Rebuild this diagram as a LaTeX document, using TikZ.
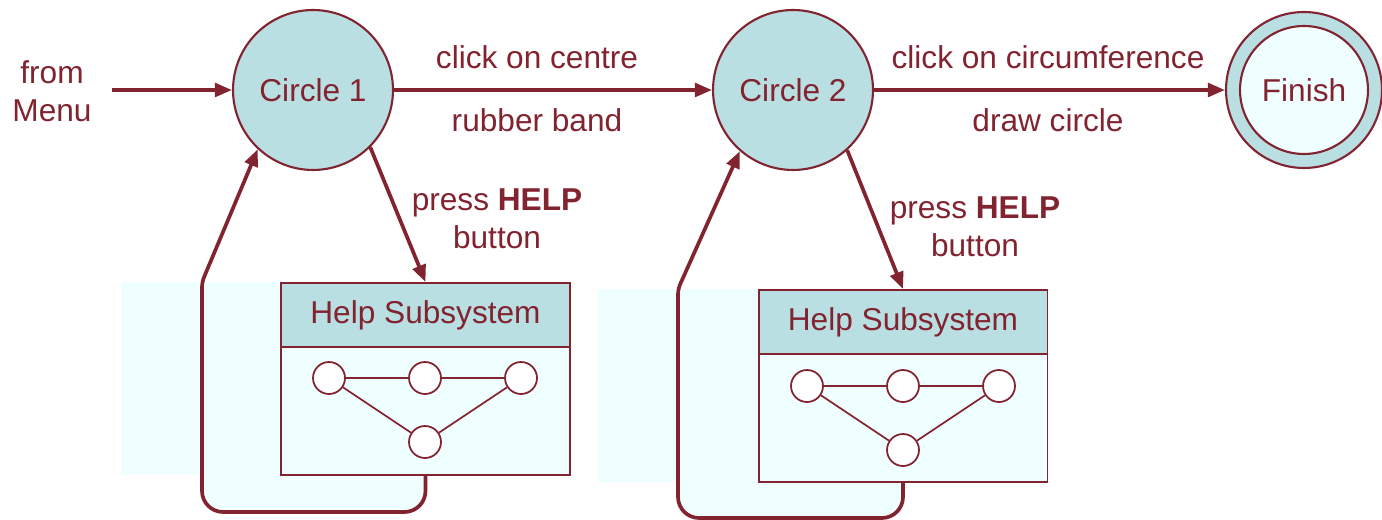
\documentclass[tikz,border=0pt]{standalone}
\usepackage{fontspec}
\setmainfont{Liberation Sans}
\usetikzlibrary{arrows.meta}
\definecolor{mar}{HTML}{822330}
\definecolor{tealfill}{HTML}{B9DFE2}
\definecolor{pale}{HTML}{EFFFFF}
\begin{document}
\begin{tikzpicture}[x=0.02cm,y=-0.02cm,
  every node/.style={text=mar,font=\fontsize{18}{21.6}\selectfont},
  state/.style={circle,draw=mar,line width=1.2pt,fill=tealfill,minimum size=3.2cm,inner sep=0pt},
  arr/.style={draw=mar,line width=2.1pt,-{Triangle[length=0.34cm,width=0.27cm]}},
  hhead/.style={rectangle,draw=mar,line width=1.1pt,fill=tealfill,minimum width=5.78cm,minimum height=1.28cm,inner sep=0pt},
  hbody/.style={rectangle,draw=mar,line width=1.1pt,fill=pale,minimum width=5.78cm,minimum height=2.56cm,inner sep=0pt},
  mini/.style={circle,draw=mar,line width=1pt,fill=white,minimum size=0.64cm,inner sep=0pt},
  miniedge/.style={draw=mar,line width=1pt},
  lbl/.style={align=center}]
\useasboundingbox (0,0) rectangle (1382,520);

% pale backgrounds
\fill[pale] (121,282) rectangle (570,474);
\fill[pale,rounded corners=12] (202,440) rectangle (425.5,512);
\fill[pale] (598,289) rectangle (1047,482);
\fill[pale,rounded corners=12] (678,450) rectangle (903,518);

% states
\node[state] (c1) at (313,90) {Circle 1};
\node[state] (c2) at (793,90) {Circle 2};
\node[circle,draw=mar,line width=1.2pt,fill=tealfill,minimum size=3.12cm,inner sep=0pt] (fin) at (1304,90) {};
\node[circle,draw=mar,line width=1.2pt,fill=pale,minimum size=2.56cm,inner sep=0pt] (fini) at (1304,90) {Finish};

% help box 1
\node[hbody,anchor=north] (b1) at (425.5,346) {};
\node[hhead,anchor=north] (h1) at (425.5,282) {Help Subsystem};
\node[mini] (a1) at (329,378) {};
\node[mini] (a2) at (425,378) {};
\node[mini] (a3) at (521,378) {};
\node[mini] (a4) at (425,442) {};
\draw[miniedge] (a1) -- (a2) (a2) -- (a3) (a1) -- (a4) (a3) -- (a4);

% help box 2
\node[hbody,anchor=north] (b2) at (903,353) {};
\node[hhead,anchor=north] (h2) at (903,289) {Help Subsystem};
\node[mini] (d1) at (807,386) {};
\node[mini] (d2) at (903,386) {};
\node[mini] (d3) at (999,386) {};
\node[mini] (d4) at (903,450) {};
\draw[miniedge] (d1) -- (d2) (d2) -- (d3) (d1) -- (d4) (d3) -- (d4);

% text labels
\node[lbl] (menu) at (52,91) {from\\Menu};
\node (l1) at (537,57) {click on centre};
\node (l2) at (537,120) {rubber band};
\node (l3) at (1048,57) {click on circumference};
\node (l4) at (1048,120) {draw circle};
\node[lbl] (p1) at (497,219) {press \textbf{HELP}\\[0pt]button};
\node[lbl] (p2) at (975,227) {press \textbf{HELP}\\[0pt]button};

% main arrows
\coordinate (start) at (112,90);
\draw[arr] (start) -- (c1);
\draw[arr] (c1) -- (c2);
\draw[arr] (c2) -- (fin);

% help arrows
\draw[arr] (c1.-45) -- (h1.north);
\draw[arr] (c2.-48) -- (h2.north);

% return loops
\coordinate (k1) at (202,512);
\coordinate (t1) at (202,282);
\draw[arr,rounded corners=12] (b1.south) -- (425.5,512) -- (k1) [rounded corners=3] -- (t1) -- (c1.-133);
\coordinate (k2) at (678,518);
\coordinate (t2) at (678,289);
\draw[arr,rounded corners=12] (b2.south) -- (903,518) -- (k2) [rounded corners=3] -- (t2) -- (c2.-131);
\end{tikzpicture}
\end{document}
